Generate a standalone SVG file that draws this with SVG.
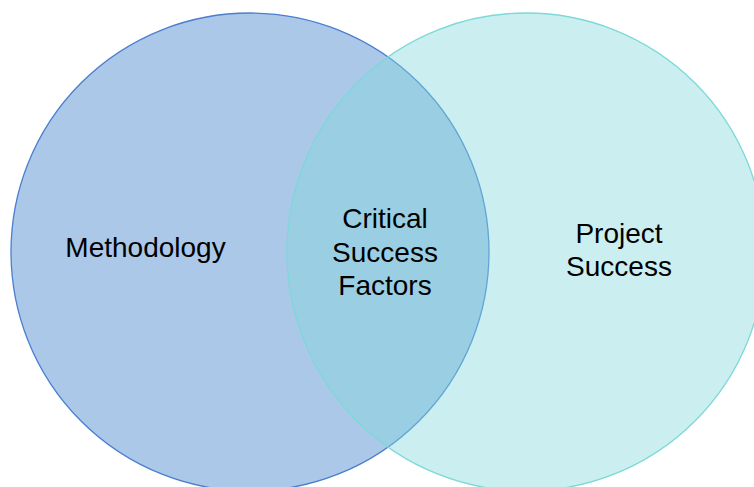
<svg xmlns="http://www.w3.org/2000/svg" width="754" height="487" viewBox="0 0 754 487">
<style>
.lbl{font-family:"Liberation Sans",Arial,sans-serif;font-size:28px;fill:#000;text-anchor:middle}
</style>
<rect width="754" height="487" fill="#ffffff"/>
<g id="methodology">
<circle cx="250" cy="252" r="239" fill="#abc8e8" stroke="#4a7fcf" stroke-width="1.3"/>
</g>
<g id="project-success">
<circle cx="526" cy="252" r="239" fill="#84dadc" fill-opacity="0.42" stroke="#7dd8d8" stroke-width="1.3"/>
</g>
<g id="labels">
<text class="lbl" x="145.5" y="257">Methodology</text>
<text class="lbl" x="385" y="228">Critical</text>
<text class="lbl" x="385" y="261.5">Success</text>
<text class="lbl" x="385" y="295">Factors</text>
<text class="lbl" x="619" y="243">Project</text>
<text class="lbl" x="619" y="276">Success</text>
</g>
<g id="connectors"></g>
</svg>
